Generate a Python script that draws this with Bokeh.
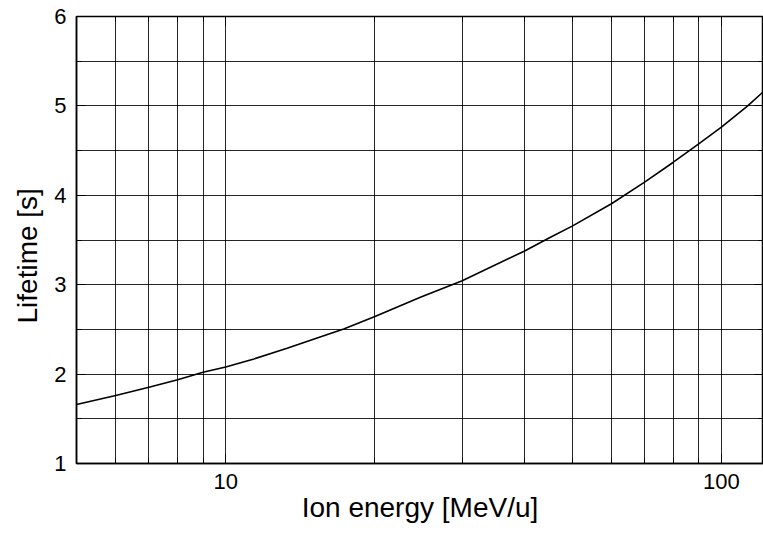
from bokeh.plotting import figure
from bokeh.models import (Range1d, FixedTicker, LinearAxis, LogAxis,
                          NumeralTickFormatter, Title)
from bokeh.embed import file_html
from bokeh.resources import INLINE

# Data
energy = [5, 6, 7, 8, 9, 10, 11.4, 13.3, 15.5, 17.3, 20, 24.7, 30, 40, 45, 50,
          60, 70, 80, 90, 100, 113, 121]
lifetime = [1.66, 1.76, 1.853, 1.936, 2.02, 2.08, 2.17, 2.29, 2.415, 2.505, 2.644,
            2.86, 3.045, 3.375, 3.525, 3.655, 3.905, 4.147, 4.37, 4.576, 4.762,
            5.0, 5.15]

x_major = [10, 100]
x_minor = [6, 7, 8, 9, 20, 30, 40, 50, 60, 70, 80, 90]
y_major = [1, 2, 3, 4, 5, 6]
y_minor = [1.5, 2.5, 3.5, 4.5, 5.5]

x_title = "Ion energy [MeV/u]"
y_title = "Lifetime [s]"

FONT = "Liberation Sans"

p = figure(width=763, height=533, x_axis_type="log",
           x_range=Range1d(5, 121.6), y_range=Range1d(1, 6),
           output_backend="svg", toolbar_location=None,
           min_border_left=76, min_border_right=0, min_border_top=16,
           min_border_bottom=70)

p.background_fill_color = "white"
p.border_fill_color = "white"
p.outline_line_color = "black"
p.outline_line_width = 1.5

xt = FixedTicker(ticks=x_major, minor_ticks=x_minor)
yt = FixedTicker(ticks=y_major, minor_ticks=y_minor)

p.xaxis.ticker = xt
p.yaxis.ticker = yt
p.xgrid.ticker = xt
p.ygrid.ticker = yt
p.xaxis.formatter = NumeralTickFormatter(format="0")

for g in (p.xgrid, p.ygrid):
    g.grid_line_color = "black"
    g.grid_line_alpha = 0.85
    g.grid_line_width = 1
    g.minor_grid_line_color = "black"
    g.minor_grid_line_alpha = 0.85
    g.minor_grid_line_width = 1

for ax in (p.xaxis, p.yaxis):
    ax.axis_line_color = "black"
    ax.axis_line_width = 1.5
    ax.major_tick_in = 9
    ax.major_tick_out = 0
    ax.minor_tick_in = 5
    ax.minor_tick_out = 0
    ax.major_tick_line_color = "black"
    ax.minor_tick_line_color = "black"
    ax.major_label_text_font = FONT
    ax.major_label_text_font_size = "22px"
    ax.major_label_text_color = "black"
    ax.axis_label_text_font = FONT
    ax.axis_label_text_font_size = "28px"
    ax.axis_label_text_font_style = "normal"
    ax.axis_label_text_color = "black"

p.xaxis.axis_label = x_title
p.xaxis.major_label_standoff = 10
p.xaxis.axis_label_standoff = 0
p.yaxis.major_label_standoff = 10
p.yaxis.major_label_orientation = "horizontal"

# y title as a left-side title, starting a little above the frame bottom
p.add_layout(Title(text=y_title, align="left", offset=140,
                   text_font=FONT, text_font_size="28px",
                   text_font_style="normal", text_color="black",
                   standoff=18), "left")

# inward ticks on top and right (labels hidden)
top = LogAxis(ticker=xt, major_tick_in=9, major_tick_out=0, minor_tick_in=5,
              minor_tick_out=0, major_label_text_font_size="1px",
              major_label_text_color=None, major_label_standoff=0,
              axis_line_color=None)
right = LinearAxis(ticker=yt, major_tick_in=9, major_tick_out=0, minor_tick_in=5,
                   minor_tick_out=0, major_label_text_font_size="1px",
                   major_label_text_color=None, major_label_standoff=0,
                   axis_line_color=None)
p.add_layout(top, "above")
p.add_layout(right, "right")

p.line(energy, lifetime, line_color="black", line_width=1.6)

open("out.html", "w").write(file_html(p, INLINE))
